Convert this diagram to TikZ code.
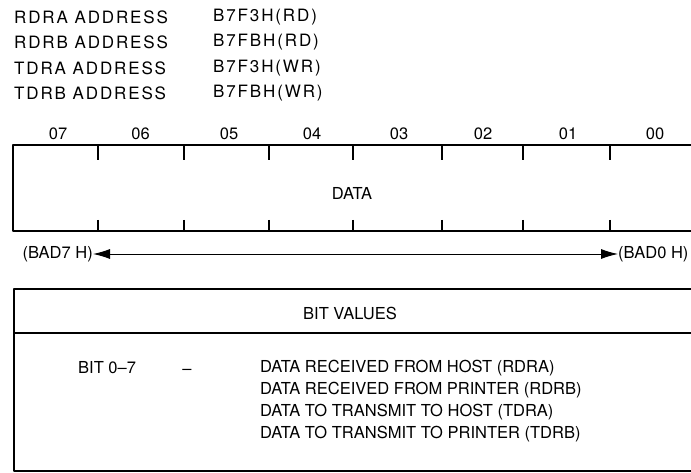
\documentclass[tikz,border=0pt]{standalone}
\usepackage{fontspec}
\setmainfont{TeX Gyre Heros}
\newfontfamily\wide[LetterSpace=11]{TeX Gyre Heros}
\usetikzlibrary{arrows.meta}
\begin{document}
\begin{tikzpicture}[x=1pt,y=-1pt,
  lbl/.style={inner sep=0pt,font=\fontsize{16.5}{19}\selectfont},
  addr/.style={lbl,anchor=west,font=\fontsize{17}{19}\wide},
  box/.style={line width=2.4pt,line join=round},
  tick/.style={line width=1.8pt},
  pointer/.style={line width=0.9pt,{Latex[length=17pt,width=10pt]}-{Latex[length=17pt,width=10pt]}}]
\useasboundingbox (0,0) rectangle (691,473);
\clip (0,0) rectangle (691,473);
% address table
\node[addr] (a1) at (14,17) {RDRA ADDRESS};
\node[addr] (a2) at (14,42.5) {RDRB ADDRESS};
\node[addr] (a3) at (14,68) {TDRA ADDRESS};
\node[addr] (a4) at (14,93.5) {TDRB ADDRESS};
\node[addr] (v1) at (213,17) {B7F3H(RD)};
\node[addr] (v2) at (213,42.5) {B7FBH(RD)};
\node[addr] (v3) at (213,68) {B7F3H(WR)};
\node[addr] (v4) at (213,93.5) {B7FBH(WR)};
% bit numbers
\foreach \x/\t in {58/07,140.5/06,229/05,312/04,399/03,483/02,568/01,655/00}
  \node[lbl] (b\t) at (\x,133.5) {\t};
% register box
\draw[box] (705,145) -- (13,145) -- (13,231) -- (705,231);
\foreach \x in {98,184,269,353,442,523,610}{
  \draw[tick] (\x,145) -- (\x,160);
  \draw[tick] (\x,220) -- (\x,231);
}
\node[lbl] (data) at (352,193) {DATA};
% address range arrow
\node[lbl,anchor=east] (hi) at (93,254) {(BAD7 H)};
\node[lbl,anchor=west] (lo) at (618,254) {(BAD0 H)};
\draw[pointer] (hi.east) -- (lo.west);
% bit values table
\draw[box] (705,289) -- (14,289) -- (14,471) -- (705,471);
\draw[line width=1.8pt] (14,333) -- (705,333);
\node[lbl] (bv) at (350,313) {BIT VALUES};
\node[lbl,anchor=west] (bits) at (78,368) {BIT 0–7};
\node[lbl,anchor=base] (dash) at (187,374) {–};
\node[lbl,anchor=west] (d1) at (260,368) {DATA RECEIVED FROM HOST (RDRA)};
\node[lbl,anchor=west] (d2) at (260,390) {DATA RECEIVED FROM PRINTER (RDRB)};
\node[lbl,anchor=west] (d3) at (260,412) {DATA TO TRANSMIT TO HOST (TDRA)};
\node[lbl,anchor=west] (d4) at (260,434) {DATA TO TRANSMIT TO PRINTER (TDRB)};
\end{tikzpicture}
\end{document}
